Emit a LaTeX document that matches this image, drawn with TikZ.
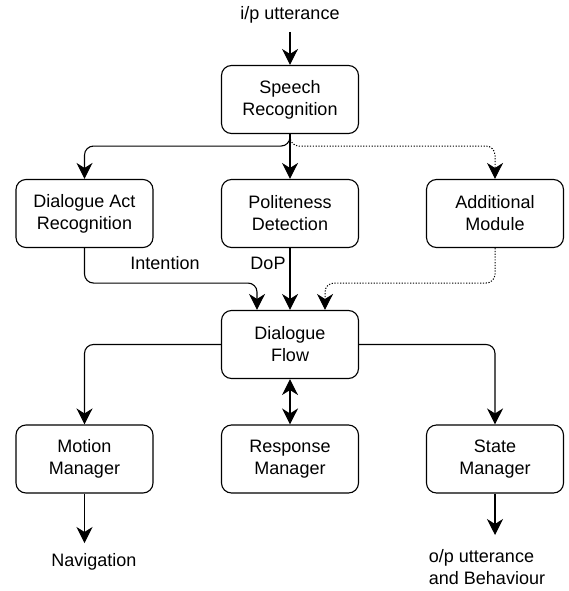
\documentclass[tikz,border=0pt]{standalone}
\usepackage{fontspec}
\setmainfont{Liberation Sans}
\usetikzlibrary{arrows.meta}
\begin{document}
\begin{tikzpicture}[x=1pt,y=1pt,
  tip/.tip={Stealth[length=16pt,width=16pt,inset=5pt]},
  box/.style={draw, line width=1.1pt, rounded corners=10pt, minimum width=137pt, minimum height=68pt, align=center, inner sep=0pt, font=\fontsize{18}{22}\selectfont},
  lbl/.style={inner sep=0pt, font=\fontsize{18}{22}\selectfont},
  conn/.style={line width=1.1pt, rounded corners=9pt, -tip},
  dotconn/.style={line width=1pt, rounded corners=9pt, dash pattern=on 1.2pt off 1.6pt, -tip},
  biconn/.style={line width=1.1pt, tip-tip}
]
\useasboundingbox (0,0) rectangle (568,-591);
\node[lbl] (ip) at (290,-15) {i/p utterance};
\coordinate (ipend) at (290,-32);
\node[box] (sr) at (290,-99.5) {Speech\\Recognition};
\node[box] (dar) at (84.5,-213.5) {Dialogue Act\\Recognition};
\node[box] (pd) at (290,-213.5) {Politeness\\Detection};
\node[box] (am) at (495,-213.5) {Additional\\Module};
\node[box] (df) at (290,-344.5) {Dialogue\\Flow};
\node[box] (mm) at (84.5,-459) {Motion\\Manager};
\node[box] (rm) at (290,-459) {Response\\Manager};
\node[box] (smg) at (495,-459) {State\\Manager};
\node[lbl] (nav) at (94,-562) {Navigation};
\coordinate (navend) at (84.5,-543);
\node[lbl, align=left] (op) at (487,-567) {o/p utterance\\and Behaviour};
\coordinate (opend) at (495,-535);
\node[lbl] (intent) at (165,-263) {Intention};
\node[lbl] (dop) at (268,-263) {DoP};

\draw[conn] (ipend) -- (sr.north);
\draw[conn] (sr.south) -- ++(0,-12) -| (dar.north);
\draw[conn] (sr.south) -- (pd.north);
\draw[dotconn] (sr.south) -- ++(0,-12) -| (am.north);
\draw[conn] (dar.south) -- ++(0,-35) -| ([xshift=-33pt]df.north);
\draw[conn] (pd.south) -- (df.north);
\draw[dotconn] (am.south) -- ++(0,-35) -| ([xshift=35pt]df.north);
\draw[conn] (df.west) -| (mm.north);
\draw[conn] (df.east) -| (smg.north);
\draw[biconn] (df.south) -- (rm.north);
\draw[conn] (mm.south) -- (navend);
\draw[conn] (smg.south) -- (opend);
\end{tikzpicture}
\end{document}
